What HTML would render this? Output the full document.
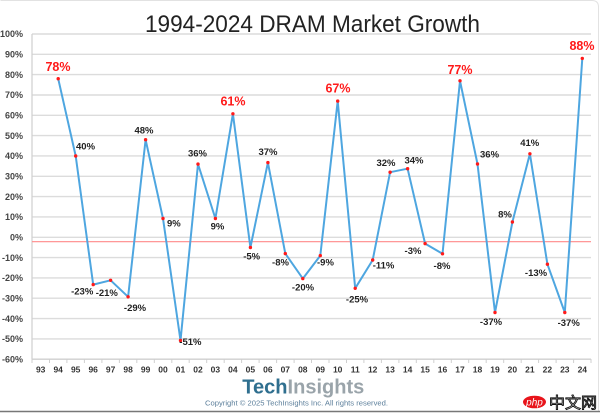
<!DOCTYPE html>
<html><head><meta charset="utf-8"><style>
html,body{margin:0;padding:0;background:#fff;}
svg{display:block;}
text{font-family:"Liberation Sans","Noto Sans CJK SC",sans-serif;}
</style></head><body>
<svg width="600" height="413" viewBox="0 0 600 413" xmlns="http://www.w3.org/2000/svg">
<rect x="0" y="0" width="600" height="413" fill="#fff"/>
<path d="M0.5 0.5 H592 Q598.5 0.5 598.5 7 V411" fill="none" stroke="#e2e2e2" stroke-width="1"/>
<line x1="0" y1="411.5" x2="600" y2="411.5" stroke="#777" stroke-width="1.5"/>

<text x="312.5" y="32" font-size="24" fill="#222" text-anchor="middle" textLength="335" lengthAdjust="spacingAndGlyphs">1994-2024 DRAM Market Growth</text>

<g stroke="#dcdcdc" stroke-width="1.4">
<line x1="32" y1="34" x2="591" y2="34"/>
<line x1="32" y1="54.3" x2="591" y2="54.3"/>
<line x1="32" y1="74.6" x2="591" y2="74.6"/>
<line x1="32" y1="95" x2="591" y2="95"/>
<line x1="32" y1="115.3" x2="591" y2="115.3"/>
<line x1="32" y1="135.6" x2="591" y2="135.6"/>
<line x1="32" y1="155.9" x2="591" y2="155.9"/>
<line x1="32" y1="176.3" x2="591" y2="176.3"/>
<line x1="32" y1="196.6" x2="591" y2="196.6"/>
<line x1="32" y1="216.9" x2="591" y2="216.9"/>
<line x1="32" y1="237.3" x2="591" y2="237.3"/>
<line x1="32" y1="257.6" x2="591" y2="257.6"/>
<line x1="32" y1="277.9" x2="591" y2="277.9"/>
<line x1="32" y1="298.2" x2="591" y2="298.2"/>
<line x1="32" y1="318.6" x2="591" y2="318.6"/>
<line x1="32" y1="338.9" x2="591" y2="338.9"/>
</g>
<line x1="32" y1="359.2" x2="591" y2="359.2" stroke="#cfcfcf" stroke-width="1.4"/>
<line x1="32" y1="34" x2="32" y2="359.2" stroke="#cfcfcf" stroke-width="1.2"/>
<g stroke="#cfcfcf" stroke-width="1">
<line x1="32" y1="359" x2="32" y2="363"/><line x1="49.5" y1="359" x2="49.5" y2="363"/><line x1="66.9" y1="359" x2="66.9" y2="363"/><line x1="84.4" y1="359" x2="84.4" y2="363"/><line x1="101.9" y1="359" x2="101.9" y2="363"/><line x1="119.4" y1="359" x2="119.4" y2="363"/><line x1="136.8" y1="359" x2="136.8" y2="363"/><line x1="154.3" y1="359" x2="154.3" y2="363"/><line x1="171.8" y1="359" x2="171.8" y2="363"/><line x1="189.2" y1="359" x2="189.2" y2="363"/><line x1="206.7" y1="359" x2="206.7" y2="363"/><line x1="224.2" y1="359" x2="224.2" y2="363"/><line x1="241.6" y1="359" x2="241.6" y2="363"/><line x1="259.1" y1="359" x2="259.1" y2="363"/><line x1="276.6" y1="359" x2="276.6" y2="363"/><line x1="294.1" y1="359" x2="294.1" y2="363"/><line x1="311.5" y1="359" x2="311.5" y2="363"/><line x1="329" y1="359" x2="329" y2="363"/><line x1="346.5" y1="359" x2="346.5" y2="363"/><line x1="363.9" y1="359" x2="363.9" y2="363"/><line x1="381.4" y1="359" x2="381.4" y2="363"/><line x1="398.9" y1="359" x2="398.9" y2="363"/><line x1="416.3" y1="359" x2="416.3" y2="363"/><line x1="433.8" y1="359" x2="433.8" y2="363"/><line x1="451.3" y1="359" x2="451.3" y2="363"/><line x1="468.7" y1="359" x2="468.7" y2="363"/><line x1="486.2" y1="359" x2="486.2" y2="363"/><line x1="503.7" y1="359" x2="503.7" y2="363"/><line x1="521.2" y1="359" x2="521.2" y2="363"/><line x1="538.6" y1="359" x2="538.6" y2="363"/><line x1="556.1" y1="359" x2="556.1" y2="363"/><line x1="573.6" y1="359" x2="573.6" y2="363"/><line x1="591" y1="359" x2="591" y2="363"/>
</g>

<g font-size="9" font-weight="bold" fill="#444" text-anchor="end">
<text x="23" y="37.2">100%</text>
<text x="23" y="57.5">90%</text>
<text x="23" y="77.8">80%</text>
<text x="23" y="98.2">70%</text>
<text x="23" y="118.5">60%</text>
<text x="23" y="138.8">50%</text>
<text x="23" y="159.1">40%</text>
<text x="23" y="179.5">30%</text>
<text x="23" y="199.8">20%</text>
<text x="23" y="220.1">10%</text>
<text x="23" y="240.5">0%</text>
<text x="23" y="260.8">-10%</text>
<text x="23" y="281.1">-20%</text>
<text x="23" y="301.4">-30%</text>
<text x="23" y="321.8">-40%</text>
<text x="23" y="342.1">-50%</text>
<text x="23" y="362.4">-60%</text>
</g>

<g font-size="8.5" font-weight="bold" fill="#333" text-anchor="middle">
<text x="40.7" y="372.5">93</text><text x="58.2" y="372.5">94</text><text x="75.7" y="372.5">95</text><text x="93.2" y="372.5">96</text><text x="110.6" y="372.5">97</text><text x="128.1" y="372.5">98</text><text x="145.6" y="372.5">99</text><text x="163" y="372.5">00</text><text x="180.5" y="372.5">01</text><text x="198" y="372.5">02</text><text x="215.4" y="372.5">03</text><text x="232.9" y="372.5">04</text><text x="250.4" y="372.5">05</text><text x="267.9" y="372.5">06</text><text x="285.3" y="372.5">07</text><text x="302.8" y="372.5">08</text><text x="320.3" y="372.5">09</text><text x="337.7" y="372.5">10</text><text x="355.2" y="372.5">11</text><text x="372.7" y="372.5">12</text><text x="390.1" y="372.5">13</text><text x="407.6" y="372.5">14</text><text x="425.1" y="372.5">15</text><text x="442.5" y="372.5">16</text><text x="460" y="372.5">17</text><text x="477.5" y="372.5">18</text><text x="495" y="372.5">19</text><text x="512.4" y="372.5">20</text><text x="529.9" y="372.5">21</text><text x="547.4" y="372.5">22</text><text x="564.8" y="372.5">23</text><text x="582.3" y="372.5">24</text>
</g>

<line x1="32" y1="241.7" x2="591" y2="241.7" stroke="#ff8a8a" stroke-width="1.2"/>

<polyline fill="none" stroke="#4ea6e0" stroke-width="2" stroke-linejoin="round" points="58.2,78.7 75.7,156 93.2,284.6 110.6,280.3 128.1,296.8 145.6,139.7 163,218.5 180.5,340.5 198,164.1 215.4,218.5 232.9,113.8 250.4,247.5 267.9,162.6 285.3,253.6 302.8,278.6 320.3,255.6 337.7,101.1 355.2,288.3 372.7,260 390.1,172.2 407.6,168.7 425.1,243.6 442.5,253.8 460,80.8 477.5,164 495,312.5 512.4,222 529.9,153.8 547.4,264.2 564.8,312.5 582.3,58.4"/>
<g fill="#ff1a1a">
<circle cx="58.2" cy="78.7" r="1.7"/><circle cx="75.7" cy="156" r="1.7"/><circle cx="93.2" cy="284.6" r="1.7"/><circle cx="110.6" cy="280.3" r="1.7"/><circle cx="128.1" cy="296.8" r="1.7"/><circle cx="145.6" cy="139.7" r="1.7"/><circle cx="163" cy="218.5" r="1.7"/><circle cx="180.5" cy="340.5" r="1.7"/><circle cx="198" cy="164.1" r="1.7"/><circle cx="215.4" cy="218.5" r="1.7"/><circle cx="232.9" cy="113.8" r="1.7"/><circle cx="250.4" cy="247.5" r="1.7"/><circle cx="267.9" cy="162.6" r="1.7"/><circle cx="285.3" cy="253.6" r="1.7"/><circle cx="302.8" cy="278.6" r="1.7"/><circle cx="320.3" cy="255.6" r="1.7"/><circle cx="337.7" cy="101.1" r="1.7"/><circle cx="355.2" cy="288.3" r="1.7"/><circle cx="372.7" cy="260" r="1.7"/><circle cx="390.1" cy="172.2" r="1.7"/><circle cx="407.6" cy="168.7" r="1.7"/><circle cx="425.1" cy="243.6" r="1.7"/><circle cx="442.5" cy="253.8" r="1.7"/><circle cx="460" cy="80.8" r="1.7"/><circle cx="477.5" cy="164" r="1.7"/><circle cx="495" cy="312.5" r="1.7"/><circle cx="512.4" cy="222" r="1.7"/><circle cx="529.9" cy="153.8" r="1.7"/><circle cx="547.4" cy="264.2" r="1.7"/><circle cx="564.8" cy="312.5" r="1.7"/><circle cx="582.3" cy="58.4" r="1.7"/>
</g>

<g font-size="12.5" font-weight="bold" fill="#ff1a1a" text-anchor="middle">
<text x="58" y="71">78%</text>
<text x="233" y="105.7">61%</text>
<text x="338" y="92.7">67%</text>
<text x="460" y="74">77%</text>
<text x="582" y="50">88%</text>
</g>

<g font-size="9.5" font-weight="bold" fill="#222">
<text x="76" y="149.5">40%</text>
<text x="144" y="133.7" text-anchor="middle">48%</text>
<text x="197.5" y="156.7" text-anchor="middle">36%</text>
<text x="268" y="155" text-anchor="middle">37%</text>
<text x="386" y="166" text-anchor="middle">32%</text>
<text x="414" y="163.3" text-anchor="middle">34%</text>
<text x="480" y="157.3">36%</text>
<text x="529.7" y="146" text-anchor="middle">41%</text>
<text x="167" y="226.7">9%</text>
<text x="217.5" y="229.3" text-anchor="middle">9%</text>
<text x="93.3" y="294.3" text-anchor="end">-23%</text>
<text x="95.7" y="296">-21%</text>
<text x="135" y="311" text-anchor="middle">-29%</text>
<text x="179.3" y="345">-51%</text>
<text x="251.7" y="259.3" text-anchor="middle">-5%</text>
<text x="280.5" y="265.3" text-anchor="middle">-8%</text>
<text x="303" y="290.7" text-anchor="middle">-20%</text>
<text x="317" y="265.7">-9%</text>
<text x="357" y="302.7" text-anchor="middle">-25%</text>
<text x="372.7" y="268.3">-11%</text>
<text x="413" y="254" text-anchor="middle">-3%</text>
<text x="442" y="269" text-anchor="middle">-8%</text>
<text x="491" y="325" text-anchor="middle">-37%</text>
<text x="505" y="217.7" text-anchor="middle">8%</text>
<text x="536" y="276" text-anchor="middle">-13%</text>
<text x="568.7" y="326" text-anchor="middle">-37%</text>
</g>

<text x="242.3" y="393.3" font-size="20" font-weight="bold" textLength="122" lengthAdjust="spacingAndGlyphs"><tspan fill="#2f6f8f">Tech</tspan><tspan fill="#9aa4aa">Insights</tspan></text>
<text x="205" y="405.6" font-size="7.5" fill="#5c7f9b" textLength="183" lengthAdjust="spacingAndGlyphs">Copyright © 2025 TechInsights Inc.  All rights reserved.</text>

<ellipse cx="534.5" cy="402" rx="11.5" ry="6.3" fill="#e8141b"/>
<text x="534.5" y="405.5" font-size="10" font-style="italic" fill="#fff" text-anchor="middle">php</text>
<text x="549" y="408" font-size="15.5" fill="#fff" stroke="#111" stroke-width="0.9" textLength="48" lengthAdjust="spacingAndGlyphs">中文网</text>
</svg>
</body></html>
